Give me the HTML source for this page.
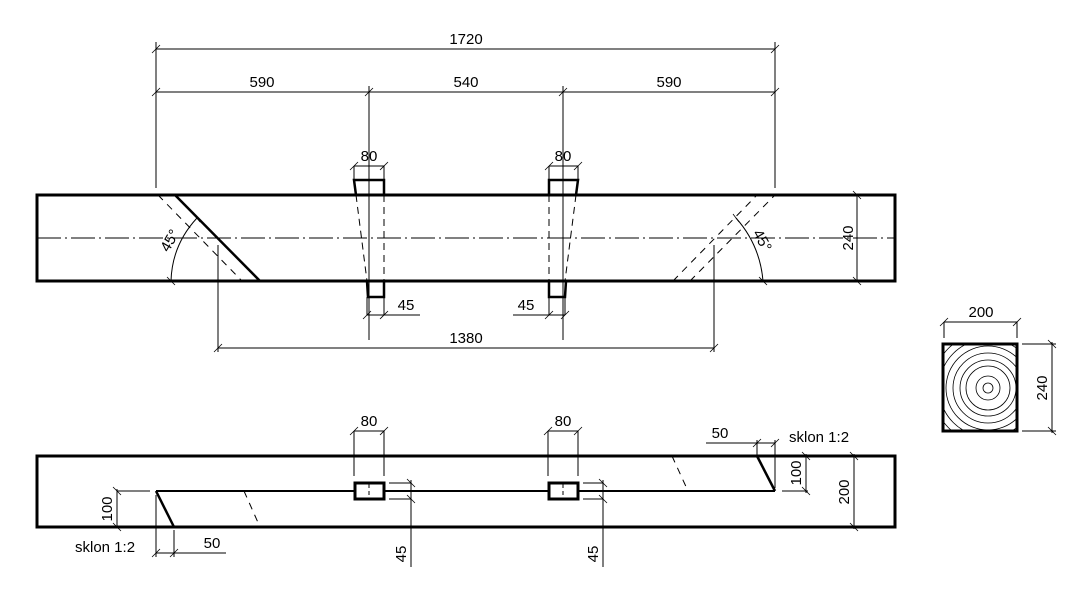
<!DOCTYPE html>
<html><head><meta charset="utf-8"><style>
html,body{margin:0;padding:0;background:#fff;}
svg{display:block;}
text{font-family:"Liberation Sans",sans-serif;font-size:15px;fill:#000;}
</style></head><body>
<svg width="1085" height="602" viewBox="0 0 1085 602" xmlns="http://www.w3.org/2000/svg">
<g stroke="#000" fill="none" stroke-width="1">
<line x1="156" y1="49" x2="775" y2="49"/>
<line x1="156" y1="92" x2="775" y2="92"/>
<line x1="156" y1="42" x2="156" y2="188"/>
<line x1="775" y1="42" x2="775" y2="188"/>
<line x1="369" y1="86" x2="369" y2="340"/>
<line x1="563" y1="86" x2="563" y2="340"/>
<g stroke-width="0.8">
<line x1="152" y1="53" x2="160" y2="45"/><line x1="771" y1="53" x2="779" y2="45"/>
<line x1="152" y1="96" x2="160" y2="88"/><line x1="365" y1="96" x2="373" y2="88"/>
<line x1="559" y1="96" x2="567" y2="88"/><line x1="771" y1="96" x2="779" y2="88"/>
</g>
<rect x="37" y="195" width="858" height="86" stroke-width="3"/>
<line x1="37" y1="238" x2="895" y2="238" stroke-dasharray="24,4,2,4"/>
<line x1="175" y1="195" x2="260" y2="281" stroke-width="2.5"/>
<line x1="158" y1="195" x2="242" y2="281" stroke-dasharray="7,6"/>
<path d="M197 218 Q172 245 171 281"/>
<line x1="194" y1="214" x2="200" y2="222" stroke-width="0.8"/>
<line x1="167" y1="277" x2="175" y2="285" stroke-width="0.8"/>
<line x1="218" y1="245" x2="218" y2="352"/>
<line x1="673" y1="281" x2="757" y2="195" stroke-dasharray="7,6"/>
<line x1="690" y1="281" x2="775" y2="195" stroke-dasharray="7,6"/>
<path d="M736 218 Q760 245 763 281"/>
<line x1="733" y1="214" x2="739" y2="222" stroke-width="0.8"/>
<line x1="759" y1="277" x2="767" y2="285" stroke-width="0.8"/>
<line x1="714" y1="245" x2="714" y2="352"/>
<line x1="218" y1="348" x2="714" y2="348"/>
<line x1="214" y1="352" x2="222" y2="344" stroke-width="0.8"/>
<line x1="710" y1="352" x2="718" y2="344" stroke-width="0.8"/>
<line x1="857" y1="195" x2="857" y2="281"/>
<line x1="853" y1="191" x2="861" y2="199" stroke-width="0.8"/>
<line x1="853" y1="277" x2="861" y2="285" stroke-width="0.8"/>
<path d="M356 195 L354 180 L384 180 L384 195" stroke-width="2.5"/>
<line x1="356" y1="195" x2="367" y2="281" stroke-dasharray="7,5"/>
<line x1="384" y1="195" x2="384" y2="281" stroke-dasharray="7,5"/>
<path d="M367 281 L368 297 L384 297 L384 281" stroke-width="2.5"/>
<line x1="354" y1="166" x2="384" y2="166"/>
<line x1="354" y1="166" x2="354" y2="180"/><line x1="384" y1="166" x2="384" y2="180"/>
<line x1="350" y1="170" x2="358" y2="162" stroke-width="0.8"/><line x1="380" y1="170" x2="388" y2="162" stroke-width="0.8"/>
<line x1="367" y1="297" x2="367" y2="315"/><line x1="384" y1="297" x2="384" y2="315"/>
<line x1="367" y1="315" x2="420" y2="315"/>
<line x1="363" y1="319" x2="371" y2="311" stroke-width="0.8"/><line x1="380" y1="319" x2="388" y2="311" stroke-width="0.8"/>
<path d="M549 195 L549 180 L578 180 L576 195" stroke-width="2.5"/>
<line x1="576" y1="195" x2="565" y2="281" stroke-dasharray="7,5"/>
<line x1="549" y1="195" x2="549" y2="281" stroke-dasharray="7,5"/>
<path d="M549 281 L549 297 L565 297 L566 281" stroke-width="2.5"/>
<line x1="549" y1="166" x2="578" y2="166"/>
<line x1="549" y1="166" x2="549" y2="180"/><line x1="578" y1="166" x2="578" y2="180"/>
<line x1="545" y1="170" x2="553" y2="162" stroke-width="0.8"/><line x1="574" y1="170" x2="582" y2="162" stroke-width="0.8"/>
<line x1="549" y1="297" x2="549" y2="315"/><line x1="565" y1="297" x2="565" y2="315"/>
<line x1="513" y1="315" x2="565" y2="315"/>
<line x1="545" y1="319" x2="553" y2="311" stroke-width="0.8"/><line x1="561" y1="319" x2="569" y2="311" stroke-width="0.8"/>
<rect x="37" y="456" width="858" height="71" stroke-width="3"/>
<line x1="156" y1="491" x2="775" y2="491" stroke-width="2"/>
<line x1="156" y1="491" x2="174" y2="527" stroke-width="2.5"/>
<line x1="757" y1="456" x2="775" y2="491" stroke-width="2.5"/>
<line x1="244" y1="491" x2="260" y2="527" stroke-dasharray="7,6"/>
<line x1="672" y1="456" x2="688" y2="491" stroke-dasharray="7,6"/>
<rect x="355" y="483" width="29" height="16" stroke-width="3" fill="#fff"/>
<line x1="369" y1="484" x2="369" y2="498" stroke-dasharray="4,3"/>
<rect x="549" y="483" width="29" height="16" stroke-width="3" fill="#fff"/>
<line x1="563" y1="484" x2="563" y2="498" stroke-dasharray="4,3"/>
<line x1="354" y1="431" x2="384" y2="431"/><line x1="354" y1="431" x2="354" y2="476"/><line x1="384" y1="431" x2="384" y2="476"/>
<line x1="350" y1="435" x2="358" y2="427" stroke-width="0.8"/><line x1="380" y1="435" x2="388" y2="427" stroke-width="0.8"/>
<line x1="548" y1="431" x2="578" y2="431"/><line x1="548" y1="431" x2="548" y2="476"/><line x1="578" y1="431" x2="578" y2="476"/>
<line x1="544" y1="435" x2="552" y2="427" stroke-width="0.8"/><line x1="574" y1="435" x2="582" y2="427" stroke-width="0.8"/>
<line x1="389" y1="483" x2="411" y2="483"/><line x1="389" y1="499" x2="411" y2="499"/>
<line x1="411" y1="480" x2="411" y2="567"/>
<line x1="407" y1="479" x2="415" y2="487" stroke-width="0.8"/><line x1="407" y1="495" x2="415" y2="503" stroke-width="0.8"/>
<line x1="583" y1="483" x2="603" y2="483"/><line x1="583" y1="499" x2="603" y2="499"/>
<line x1="603" y1="480" x2="603" y2="567"/>
<line x1="599" y1="479" x2="607" y2="487" stroke-width="0.8"/><line x1="599" y1="495" x2="607" y2="503" stroke-width="0.8"/>
<line x1="117" y1="491" x2="150" y2="491"/>
<line x1="117" y1="489" x2="117" y2="527"/>
<line x1="113" y1="487" x2="121" y2="495" stroke-width="0.8"/><line x1="113" y1="523" x2="121" y2="531" stroke-width="0.8"/>
<line x1="156" y1="495" x2="156" y2="557"/><line x1="174" y1="530" x2="174" y2="557"/>
<line x1="156" y1="553" x2="226" y2="553"/>
<line x1="152" y1="557" x2="160" y2="549" stroke-width="0.8"/><line x1="170" y1="557" x2="178" y2="549" stroke-width="0.8"/>
<line x1="706" y1="443" x2="775" y2="443"/>
<line x1="757" y1="440" x2="757" y2="455"/><line x1="775" y1="440" x2="775" y2="488"/>
<line x1="753" y1="447" x2="761" y2="439" stroke-width="0.8"/><line x1="771" y1="447" x2="779" y2="439" stroke-width="0.8"/>
<line x1="782" y1="491" x2="808" y2="491"/>
<line x1="806" y1="454" x2="806" y2="493"/>
<line x1="802" y1="452" x2="810" y2="460" stroke-width="0.8"/><line x1="802" y1="487" x2="810" y2="495" stroke-width="0.8"/>
<line x1="854" y1="454" x2="854" y2="529"/>
<line x1="850" y1="452" x2="858" y2="460" stroke-width="0.8"/><line x1="850" y1="523" x2="858" y2="531" stroke-width="0.8"/>
<defs><clipPath id="c"><rect x="944" y="345" width="72" height="85"/></clipPath></defs>
<g clip-path="url(#c)" stroke-width="0.8">
<circle cx="988" cy="388" r="5"/><circle cx="988" cy="388" r="12"/>
<circle cx="988" cy="388" r="22"/><circle cx="988" cy="388" r="28"/>
<circle cx="988" cy="388" r="35"/><circle cx="988" cy="388" r="42"/>
<circle cx="988" cy="388" r="49"/><circle cx="988" cy="388" r="56"/>
</g>
<rect x="943" y="344" width="74" height="87" stroke-width="3"/>
<line x1="944" y1="322" x2="1017" y2="322"/>
<line x1="944" y1="322" x2="944" y2="338"/><line x1="1017" y1="322" x2="1017" y2="338"/>
<line x1="940" y1="326" x2="948" y2="318" stroke-width="0.8"/><line x1="1013" y1="326" x2="1021" y2="318" stroke-width="0.8"/>
<line x1="1022" y1="344" x2="1056" y2="344"/><line x1="1022" y1="431" x2="1056" y2="431"/>
<line x1="1052" y1="342" x2="1052" y2="433"/>
<line x1="1048" y1="340" x2="1056" y2="348" stroke-width="0.8"/><line x1="1048" y1="427" x2="1056" y2="435" stroke-width="0.8"/>
</g>
<text x="466" y="44" text-anchor="middle">1720</text>
<text x="262" y="87" text-anchor="middle">590</text>
<text x="466" y="87" text-anchor="middle">540</text>
<text x="669" y="87" text-anchor="middle">590</text>
<text x="369" y="161" text-anchor="middle">80</text>
<text x="563" y="161" text-anchor="middle">80</text>
<text x="406" y="310" text-anchor="middle">45</text>
<text x="526" y="310" text-anchor="middle">45</text>
<text x="466" y="343" text-anchor="middle">1380</text>
<text transform="translate(853,238) rotate(-90)" text-anchor="middle">240</text>
<text transform="translate(174,243) rotate(-60)" text-anchor="middle">45°</text>
<text transform="translate(758,243) rotate(60)" text-anchor="middle">45°</text>
<text x="369" y="426" text-anchor="middle">80</text>
<text x="563" y="426" text-anchor="middle">80</text>
<text transform="translate(406,554) rotate(-90)" text-anchor="middle">45</text>
<text transform="translate(598,554) rotate(-90)" text-anchor="middle">45</text>
<text transform="translate(112,509) rotate(-90)" text-anchor="middle">100</text>
<text x="212" y="548" text-anchor="middle">50</text>
<text x="75" y="552">sklon 1:2</text>
<text x="720" y="438" text-anchor="middle">50</text>
<text x="789" y="442">sklon 1:2</text>
<text transform="translate(801,473) rotate(-90)" text-anchor="middle">100</text>
<text transform="translate(849,492) rotate(-90)" text-anchor="middle">200</text>
<text x="981" y="317" text-anchor="middle">200</text>
<text transform="translate(1047,388) rotate(-90)" text-anchor="middle">240</text>
</svg>
</body></html>
